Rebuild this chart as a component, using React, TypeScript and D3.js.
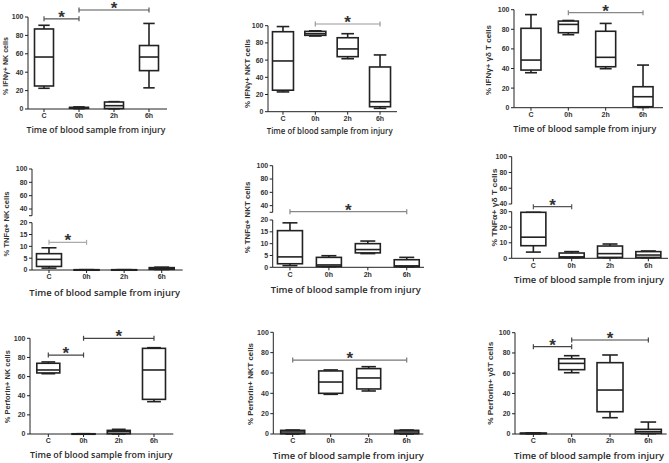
import React from 'react';
import * as d3 from 'd3';

const categories = ['C', '0h', '2h', '6h'];

// box stats per category: [min, q1, median, q3, max]
const ifnNK = [[22.5, 25, 56.5, 87, 91], [0.3, 0.8, 1.3, 1.8, 2.3], [0.2, 0.5, 3.6, 7.6, 8], [23, 41.7, 56.5, 69, 93]];
const ifnNKT = [[23, 25, 59, 93, 99], [88, 88.8, 90.7, 93.4, 94], [61.6, 64, 73, 86, 90.7], [3.9, 5.8, 11.6, 52, 66]];
const ifnGD = [[35.7, 38.4, 48.6, 81, 95], [74.5, 76.5, 85, 88.4, 89], [39.8, 41.8, 51.4, 78, 86], [0.3, 1, 11.2, 21.4, 43.5]];
const tnfNK = [[0.8, 1.5, 4.5, 6.9, 9.4], [0.05, 0.08, 0.1, 0.12, 0.15], [0.05, 0.08, 0.1, 0.12, 0.15], [0.2, 0.3, 0.7, 1, 1.2]];
const tnfNKT = [[0.7, 1.5, 4.4, 15.5, 18.8], [0.3, 0.4, 1, 4.2, 4.9], [5.8, 6.1, 7.5, 10, 11.1], [0.2, 0.3, 0.6, 3.2, 4.2]];
const tnfGD = [[4, 8.1, 13.6, 29.6, 29.6], [0.4, 0.6, 0.9, 3.4, 4.3], [0.4, 0.6, 3, 7.9, 9.2], [0.4, 0.6, 2.1, 4.3, 4.7]];
const perfNK = [[63, 63.8, 66.9, 73.9, 75.3], [0.1, 0.15, 0.2, 0.25, 0.3], [0, 0.3, 2.4, 3.8, 4.9], [33.8, 36.2, 66.9, 89.5, 90.2]];
const perfNKT = [[0, 0.3, 2, 3.6, 3.9], [39, 40, 51.1, 62, 63], [42.3, 44.3, 55.1, 64.3, 66.2], [0, 0.3, 2, 3.6, 3.9]];
const perfGD = [[0.2, 0.3, 0.6, 0.9, 1.1], [60.5, 63.5, 69.7, 74.3, 77.3], [16.1, 22, 43.4, 70.4, 78], [0.3, 0.7, 2.3, 4.6, 11.8]];

// significance brackets: [from, to, y-value]
const sigIfnNK: [string, string, number][] = [['C', '0h', 98], ['0h', '6h', 107.6]];
const sigIfnNKT: [string, string, number][] = [['0h', '6h', 102]];
const sigIfnGD: [string, string, number][] = [['0h', '6h', 97]];
const sigTnfNK: [string, string, number][] = [['C', '0h', 11.7]];
const sigTnfNKT: [string, string, number][] = [['C', '6h', 31]];
const sigTnfGD: [string, string, number][] = [['C', '0h', 36.5]];
const sigPerfNK: [string, string, number][] = [['C', '0h', 82.5], ['0h', '6h', 100]];
const sigPerfNKT: [string, string, number][] = [['C', '6h', 72.7]];
const sigPerfGD: [string, string, number][] = [['C', '0h', 86.2], ['0h', '6h', 92.8]];

const ticks100 = [0, 20, 40, 60, 80, 100];
const ticksLow20 = [0, 5, 10, 15, 20];
const ticksLow30 = [0, 10, 20, 30];
const ticksHigh = [40, 60, 80, 100];

const xTitle = 'Time of blood sample from injury';

type Seg = { from: number; to: number; ticks: number[]; breakMark?: boolean };
type PanelCfg = {
  label: string;
  data: number[][];
  sig: [string, string, number][];
  yDomain: number[];
  yRange: number[];
  segs: Seg[];
  axisX: number;
  axisEnd: number;
  band: [number, number];
  boxW: number;
  yl: [number, number, number];
  xt: [number, number, number];
  sigColor: string;
};

const panels: PanelCfg[] = [
  { label: '% IFNγ+ NK cells', data: ifnNK, sig: sigIfnNK, yDomain: [0, 100], yRange: [109, 17],
    segs: [{ from: 0, to: 100, ticks: ticks100 }], axisX: 28, axisEnd: 167, band: [26.5, 166.5], boxW: 19,
    yl: [5.5, 66, 58], xt: [96, 130, 139], sigColor: '#555' },
  { label: '% IFNγ+ NKT cells', data: ifnNKT, sig: sigIfnNKT, yDomain: [0, 100], yRange: [111.7, 25.7],
    segs: [{ from: 0, to: 100, ticks: ticks100 }], axisX: 268, axisEnd: 397, band: [266.8, 396.2], boxW: 21,
    yl: [247, 73.5, 69], xt: [329.7, 130.7, 126], sigColor: '#999' },
  { label: '% IFNγ+ γδ T cells', data: ifnGD, sig: sigIfnGD, yDomain: [0, 100], yRange: [107.7, 9.7],
    segs: [{ from: 0, to: 100, ticks: ticks100 }], axisX: 514, axisEnd: 663, band: [512.3, 661.7], boxW: 20,
    yl: [488, 60, 70], xt: [584.7, 128.3, 143], sigColor: '#888' },
  { label: '% TNFα+ NK cells', data: tnfNK, sig: sigTnfNK, yDomain: [0, 20, 30, 100], yRange: [270, 222.7, 215.7, 169],
    segs: [{ from: 0, to: 20, ticks: ticksLow20 }, { from: 30, to: 100, ticks: ticksHigh, breakMark: true }], axisX: 32, axisEnd: 182.7,
    band: [30.2, 180.5], boxW: 25, yl: [6.3, 224, 65], xt: [104.7, 292.7, 150.7], sigColor: '#aaa' },
  { label: '% TNFα+ NKT cells', data: tnfNKT, sig: sigTnfNKT, yDomain: [0, 20, 30, 100], yRange: [267.3, 220, 212.3, 165.7],
    segs: [{ from: 0, to: 20, ticks: ticksLow20 }, { from: 30, to: 100, ticks: ticksHigh, breakMark: true }], axisX: 272.7, axisEnd: 424,
    band: [270.5, 426.2], boxW: 25, yl: [247.3, 217.5, 71.6], xt: [345.7, 290, 150], sigColor: '#888' },
  { label: '% TNFα+ γδ T cells', data: tnfGD, sig: sigTnfGD, yDomain: [0, 30, 40, 100], yRange: [258.3, 211.7, 204, 156.7],
    segs: [{ from: 0, to: 30, ticks: ticksLow30 }, { from: 40, to: 100, ticks: ticksHigh }], axisX: 511.7, axisEnd: 668,
    band: [514.2, 667.5], boxW: 25, yl: [494, 207.5, 78], xt: [589, 280, 150], sigColor: '#555' },
  { label: '% Perforin+ NK cells', data: perfNK, sig: sigPerfNK, yDomain: [0, 100], yRange: [434, 338.3],
    segs: [{ from: 0, to: 100, ticks: ticks100 }], axisX: 30, axisEnd: 173.3, band: [30.7, 171.6], boxW: 23,
    yl: [7, 386.7, 73], xt: [101.3, 455, 142.7], sigColor: '#444' },
  { label: '% Perforin+ NKT cells', data: perfNKT, sig: sigPerfNKT, yDomain: [0, 100], yRange: [434, 332.3],
    segs: [{ from: 0, to: 100, ticks: ticks100 }], axisX: 273.3, axisEnd: 423.3, band: [273.7, 425.7], boxW: 24,
    yl: [250, 384, 82], xt: [348.3, 455.7, 151], sigColor: '#777' },
  { label: '% Perforin+ γδT cells', data: perfGD, sig: sigPerfGD, yDomain: [0, 100], yRange: [434, 332.7],
    segs: [{ from: 0, to: 100, ticks: ticks100 }], axisX: 515, axisEnd: 666.7, band: [514.2, 667.5], boxW: 26,
    yl: [490, 383.3, 83], xt: [589, 455.7, 150], sigColor: '#444' },
];

const INK = '#222';
const TICKFONT = "'Liberation Sans', Arial, sans-serif";
const TITLEFONT = "'Open Sans', 'Noto Sans', sans-serif";

function Panel({ p }: { p: PanelCfg }) {
  const y = d3.scaleLinear().domain(p.yDomain).range(p.yRange);
  const x = d3.scaleBand().domain(categories).range(p.band);
  const cx = (c: string) => (x(c) as number) + x.bandwidth() / 2;
  const y0 = y(0);
  return (
    <g>
      {p.segs.map((s, si) => (
        <g key={si}>
          <line x1={p.axisX} x2={p.axisX} y1={y(s.from)} y2={y(s.to)} stroke={INK} strokeWidth={1} />
          {s.breakMark ? (
            <line x1={p.axisX - 3} x2={p.axisX} y1={y(s.from)} y2={y(s.from)} stroke={INK} strokeWidth={1} />
          ) : null}
          {s.ticks.map((t) => (
            <g key={t}>
              <line x1={p.axisX - 3} x2={p.axisX} y1={y(t)} y2={y(t)} stroke={INK} strokeWidth={1} />
              <text x={p.axisX - 4.5} y={y(t)} dy="0.35em" textAnchor="end" fontSize={7} fontWeight="bold"
                fontFamily={TICKFONT} fill="#333">{t}</text>
            </g>
          ))}
        </g>
      ))}
      <line x1={p.axisX} x2={p.axisEnd} y1={y0} y2={y0} stroke={INK} strokeWidth={1} />
      {categories.map((c) => (
        <g key={c}>
          <line x1={cx(c)} x2={cx(c)} y1={y0} y2={y0 + 3} stroke={INK} strokeWidth={1} />
          <text x={cx(c)} y={y0 + 7} dy="0.35em" textAnchor="middle" fontSize={7} fontWeight="bold"
            fontFamily={TICKFONT} fill="#333">{c}</text>
        </g>
      ))}
      {p.data.map((d, i) => {
        const c = cx(categories[i]);
        const w = p.boxW;
        const cap = w * 0.6;
        const [mn, q1, md, q3, mx] = d;
        return (
          <g key={i} stroke={INK} strokeWidth={1.6} fill="none">
            <line x1={c} x2={c} y1={y(q3)} y2={y(mx)} />
            <line x1={c} x2={c} y1={y(q1)} y2={y(mn)} />
            <line x1={c - cap / 2} x2={c + cap / 2} y1={y(mx)} y2={y(mx)} />
            <line x1={c - cap / 2} x2={c + cap / 2} y1={y(mn)} y2={y(mn)} />
            <rect x={c - w / 2} width={w} y={y(q3)} height={Math.max(0.5, y(q1) - y(q3))} fill="#fff" />
            <line x1={c - w / 2} x2={c + w / 2} y1={y(md)} y2={y(md)} />
          </g>
        );
      })}
      {p.sig.map(([a, b, v], i) => {
        const yy = y(v);
        const xa = cx(a);
        const xb = cx(b);
        return (
          <g key={i}>
            <g stroke={p.sigColor} strokeWidth={1.2}>
              <line x1={xa} x2={xb} y1={yy} y2={yy} />
              <line x1={xa} x2={xa} y1={yy - 2.5} y2={yy + 2.5} />
              <line x1={xb} x2={xb} y1={yy - 2.5} y2={yy + 2.5} />
            </g>
            <text x={(xa + xb) / 2} y={yy + 4} textAnchor="middle" fontSize={17} fontWeight="bold"
              fontFamily={TICKFONT} fill="#333">*</text>
          </g>
        );
      })}
      <text transform={`translate(${p.yl[0]},${p.yl[1]}) rotate(-90)`} textAnchor="middle" dy="0.35em"
        fontSize={7.6} fontWeight="bold" fontFamily={TICKFONT} fill="#333"
        textLength={p.yl[2]} lengthAdjust="spacingAndGlyphs">{p.label}</text>
      <text x={p.xt[0]} y={p.xt[1]} textAnchor="middle" dy="0.35em" fontSize={9.4} fontWeight={600}
        fontFamily={TITLEFONT} fill="#2a2a2a" textLength={p.xt[2]} lengthAdjust="spacingAndGlyphs">{xTitle}</text>
    </g>
  );
}

export default function App() {
  return (
    <svg width={669} height={463} viewBox="0 0 669 463"
      style={{ position: 'absolute', left: 0, top: 0, background: '#fff' }}>
      <rect width={669} height={463} fill="#fff" />
      {panels.map((p, i) => <Panel key={i} p={p} />)}
    </svg>
  );
}
